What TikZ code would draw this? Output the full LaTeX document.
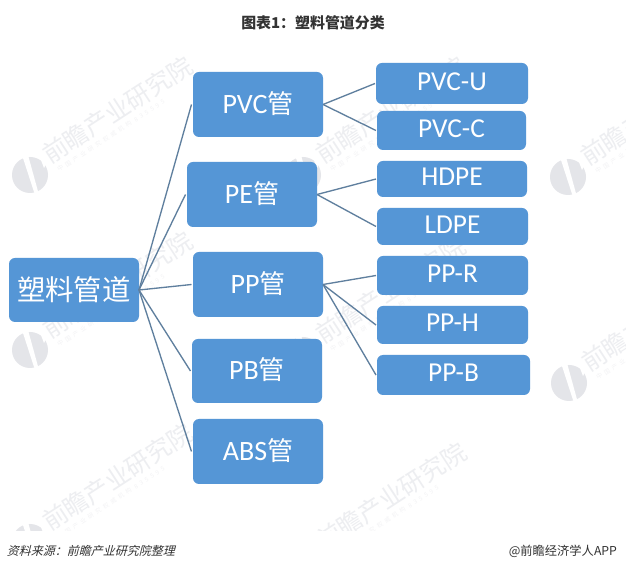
\documentclass[tikz,border=0pt]{standalone}
\usepackage{fontspec}
\setmainfont{Noto Sans CJK SC}
\newfontfamily\latinf{Carlito}
\newfontfamily\wmsubf[LetterSpace=50]{Noto Sans CJK SC}
\usetikzlibrary{calc}
\definecolor{boxblue}{HTML}{5596D6}
\definecolor{linkc}{HTML}{5F7F9E}
\definecolor{wm}{HTML}{E4E5E9}
\definecolor{wmt}{HTML}{EDEEF1}
\definecolor{wms}{HTML}{F3F3F5}
\tikzset{
  x=0.75pt,y=-0.75pt,
  every node/.style={inner sep=0pt,outer sep=0pt},
  box/.style={fill=boxblue,rounded corners=4.5pt,anchor=north west,text=white,align=center},
  midbox/.style={box,font=\latinf\fontsize{21}{21}\selectfont,text height=16.7pt,text depth=3.9pt},
  leafbox/.style={box,font=\latinf\fontsize{20.5}{21}\selectfont,text height=13.2pt,text depth=3.2pt},
  link/.style={draw=linkc,line width=1pt},
  wmtext/.style={text=wmt,anchor=west,rotate=33,font=\fontsize{18.5}{18.5}\selectfont},
  wmsub/.style={text=wms,anchor=west,rotate=33,font=\wmsubf\fontsize{4.5}{4.5}\selectfont},
}
\newcommand{\gn}{{\rmfamily\fontspec{Noto Sans CJK SC}\fontsize{19.5}{21}\selectfont 管}}
\newcommand{\bx}[7]{% name, style, x0,y0,x1,y1,text
  \path let \n1={#5-#3}, \n2={#6-#4} in node[#2,minimum width=\n1*0.75pt,minimum height=\n2*0.75pt] (#1) at (#3,#4) {#7};}
\newcommand{\wmark}[2]{%
  \begin{scope}[shift={(#1,#2)}]
    \fill[wm] (0,0) circle[radius=18];
    \fill[white] (-8,-20) -- (-2,-20) -- (9,20) -- (5,20) -- cycle;
    \fill[white] (9,-20) -- (21,-20) -- (14,-7) -- cycle;
    \node[wmtext] (wmt#1#2) at (15,-18) {前瞻产业研究院};
    \node[wmsub] (wms#1#2) at (28,-5) {中国产业研究权威机构 835595};
  \end{scope}}
\begin{document}
\begin{tikzpicture}
\useasboundingbox (0,0) rectangle (626,570);
\fill[white] (0,0) rectangle (626,570);
\begin{scope}
\clip (0,0) rectangle (626,531);
\foreach \xx/\yy in {30/175,30/350,30/542,303/175,303/355,304/561,568/177,569/383}{
  \wmark{\xx}{\yy}
}
\end{scope}
\node[font=\bfseries\fontsize{11.2}{13}\selectfont,text=black!80] (title) at (313,23) {图表1：塑料管道分类};
\bx{root}{box,font=\fontsize{21.3}{23}\selectfont}{9}{258}{139}{322}{塑料管道}
\bx{pvc}{midbox}{193}{72}{323}{137}{PVC\gn}
\bx{pe}{midbox}{187}{162}{317}{227}{PE\gn}
\bx{pp}{midbox}{193}{252}{323}{317}{PP\gn}
\bx{pb}{midbox}{192}{339}{322}{403}{PB\gn}
\bx{abs}{midbox}{193}{419}{323}{484}{ABS\gn}
\bx{pvcu}{leafbox}{376}{63}{528}{104}{PVC-U}
\bx{pvcc}{leafbox}{377}{111}{526}{150}{PVC-C}
\bx{hdpe}{leafbox}{377}{161}{527}{197}{HDPE}
\bx{ldpe}{leafbox}{377}{208}{528}{245}{LDPE}
\bx{ppr}{leafbox}{377}{256}{528}{295}{PP-R}
\bx{pph}{leafbox}{377}{306}{528}{344}{PP-H}
\bx{ppb}{leafbox}{377}{355}{530}{395}{PP-B}
\foreach \t in {pvc,pe,pp,pb,abs}{
  \draw[link] (root.east) -- ($(\t.west)+(-1.5,0)$);
}
\foreach \s/\t in {pvc/pvcu,pvc/pvcc,pe/hdpe,pe/ldpe,pp/ppr,pp/pph,pp/ppb}{
  \draw[link] (\s.east) -- ($(\t.west)+(-1,0)$);
}
\node[anchor=west,font=\fontsize{9}{11}\selectfont,xslant=0.25,text=black!80] (src) at (8,551) {资料来源：前瞻产业研究院整理};
\node[anchor=east,font=\fontsize{9.2}{11}\selectfont,text=black!80] (brand) at (617,551) {@前瞻经济学人APP};
\end{tikzpicture}
\end{document}
